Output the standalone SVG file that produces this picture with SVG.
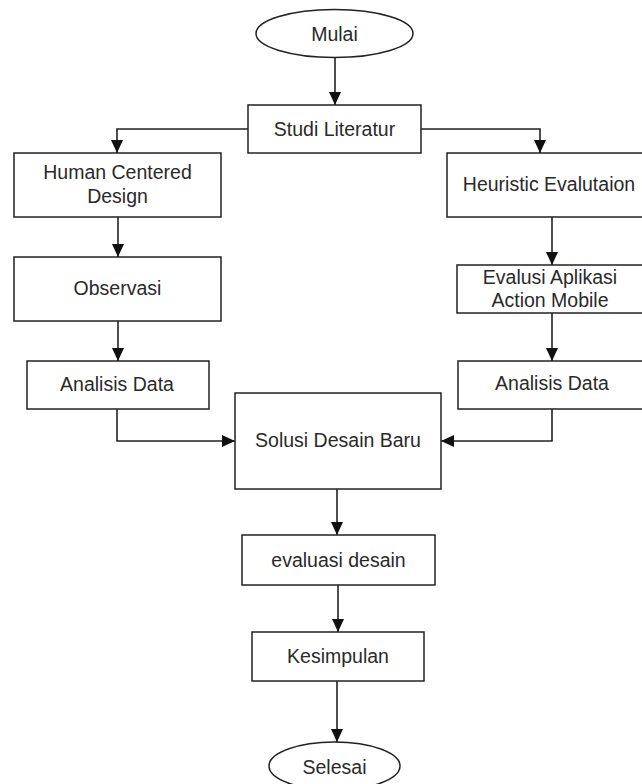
<svg xmlns="http://www.w3.org/2000/svg" width="642" height="784" viewBox="0 0 642 784">
<style>
.box{fill:#fff;stroke:#222;stroke-width:1.5}
.lbl{font-family:"Liberation Sans",Arial,sans-serif;font-size:19.5px;fill:#2a2a2a;text-anchor:middle}
.edge{fill:none;stroke:#222;stroke-width:1.6}
</style>
<defs>
<marker id="arr" viewBox="0 0 13 13" refX="13" refY="6.5" markerWidth="13" markerHeight="13" markerUnits="userSpaceOnUse" orient="auto">
<path d="M0,0.5 L13,6.5 L0,12.5 z" fill="#111"/>
</marker>
</defs>
<rect width="642" height="784" fill="#fff"/>
<g id="connectors">
<path class="edge" marker-end="url(#arr)" d="M335,57 V105"/>
<path class="edge" marker-end="url(#arr)" d="M248,129 H117 V153"/>
<path class="edge" marker-end="url(#arr)" d="M421,129 H540 V153"/>
<path class="edge" marker-end="url(#arr)" d="M118,217 V257"/>
<path class="edge" marker-end="url(#arr)" d="M118,321 V361"/>
<path class="edge" marker-end="url(#arr)" d="M552,217 V265"/>
<path class="edge" marker-end="url(#arr)" d="M552,313 V361"/>
<path class="edge" marker-end="url(#arr)" d="M117,409 V441 H235"/>
<path class="edge" marker-end="url(#arr)" d="M552,409 V441 H441"/>
<path class="edge" marker-end="url(#arr)" d="M337,489 V535"/>
<path class="edge" marker-end="url(#arr)" d="M338,585 V632"/>
<path class="edge" marker-end="url(#arr)" d="M337,681 V742"/>
</g>
<g id="mulai"><ellipse class="box" cx="334.5" cy="33.5" rx="78.5" ry="24"/><text class="lbl" x="334.5" y="40.5">Mulai</text></g>
<g id="studi"><rect class="box" x="248" y="105" width="173" height="48"/><text class="lbl" x="334.5" y="136">Studi Literatur</text></g>
<g id="hcd"><rect class="box" x="14" y="153" width="207" height="64"/><text class="lbl" x="117.5" y="179">Human Centered</text><text class="lbl" x="117.5" y="202.5">Design</text></g>
<g id="heuristic"><rect class="box" x="447" y="153" width="220" height="64"/><text class="lbl" x="549" y="191">Heuristic Evalutaion</text></g>
<g id="observasi"><rect class="box" x="14" y="257" width="207" height="64"/><text class="lbl" x="117.5" y="295">Observasi</text></g>
<g id="evalusi"><rect class="box" x="457" y="265" width="210" height="48"/><text class="lbl" x="550" y="284">Evalusi Aplikasi</text><text class="lbl" x="550" y="307">Action Mobile</text></g>
<g id="analisis-left"><rect class="box" x="27" y="361" width="182" height="48"/><text class="lbl" x="117" y="390.5">Analisis Data</text></g>
<g id="analisis-right"><rect class="box" x="458" y="361" width="210" height="48"/><text class="lbl" x="552" y="390">Analisis Data</text></g>
<g id="solusi"><rect class="box" x="235" y="393" width="206" height="96"/><text class="lbl" x="338" y="447">Solusi Desain Baru</text></g>
<g id="evaluasi"><rect class="box" x="242" y="535" width="193" height="50"/><text class="lbl" x="338.5" y="566.5">evaluasi desain</text></g>
<g id="kesimpulan"><rect class="box" x="252" y="632" width="172" height="49"/><text class="lbl" x="338" y="662.5">Kesimpulan</text></g>
<g id="selesai"><ellipse class="box" cx="334.5" cy="766" rx="65.5" ry="24"/><text class="lbl" x="334.5" y="774">Selesai</text></g>
</svg>
